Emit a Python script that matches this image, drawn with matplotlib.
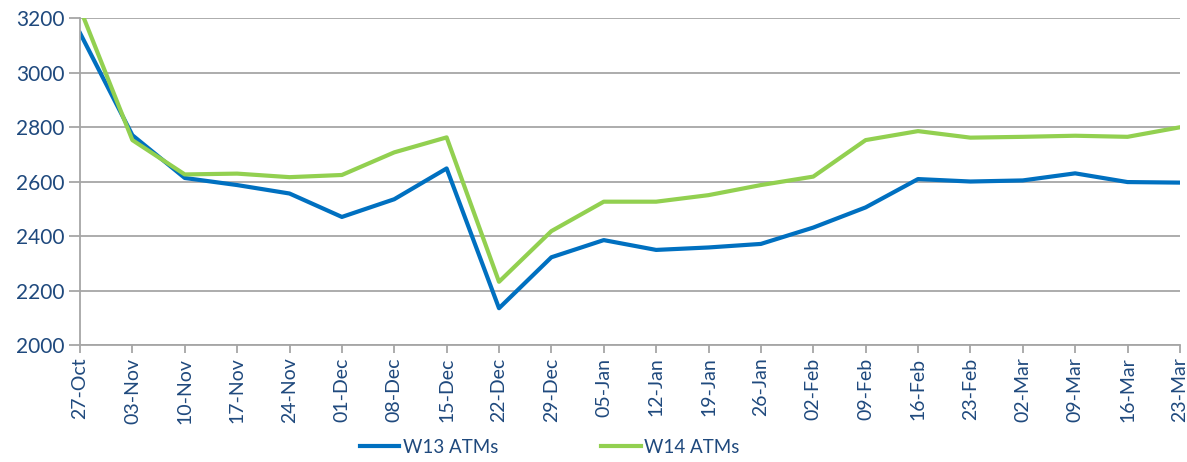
import matplotlib
matplotlib.use("Agg")
from matplotlib import pyplot as plt

# weekly dates and ATM counts
dates = ['27-Oct', '03-Nov', '10-Nov', '17-Nov', '24-Nov', '01-Dec', '08-Dec', '15-Dec',
         '22-Dec', '29-Dec', '05-Jan', '12-Jan', '19-Jan', '26-Jan', '02-Feb', '09-Feb',
         '16-Feb', '23-Feb', '02-Mar', '09-Mar', '16-Mar', '23-Mar']
w13 = [3145, 2770, 2613, 2587, 2556, 2470, 2535, 2648, 2135, 2322, 2385, 2349,
       2358, 2371, 2431, 2505, 2609, 2600, 2604, 2630, 2598, 2596]
w14 = [3235, 2752, 2626, 2629, 2616, 2624, 2707, 2762, 2232, 2418, 2526, 2526,
       2550, 2587, 2618, 2752, 2785, 2761, 2764, 2768, 2764, 2799]

txt = '#1F497D'
grid = '#A6A6A6'

plt.rcParams['font.family'] = ['Lato', 'DejaVu Sans']

fig = plt.figure(figsize=(11.87, 4.62), dpi=100)
ax = fig.add_axes([0.0674, 0.2532, 0.9266, 0.7078])

x = list(range(len(dates)))
ax.plot(x, w13, color='#0070C0', lw=3, label='W13 ATMs', solid_joinstyle='round')
ax.plot(x, w14, color='#92D050', lw=3, label='W14 ATMs', solid_joinstyle='round')

ax.set_xlim(0, len(dates) - 1)
ax.set_ylim(2000, 3200)
ax.set_yticks(range(2000, 3201, 200))
ax.set_xticks(x)
ax.set_xticklabels(dates, rotation=90)

ax.grid(axis='y', color=grid, lw=1.3)
ax.set_axisbelow(True)
for s in ['top', 'right']:
    ax.spines[s].set_visible(False)
for s in ['left', 'bottom']:
    ax.spines[s].set_color(grid)
    ax.spines[s].set_linewidth(1.3)

ax.tick_params(axis='y', length=8, width=1.3, color=grid, labelsize=15, labelcolor=txt, pad=3)
ax.tick_params(axis='x', length=6, width=1.3, color=grid, labelsize=14, labelcolor=txt, pad=3)

fig.legend(loc='center', bbox_to_anchor=(0.463, 0.032), ncol=2, frameon=False,
           fontsize=13.5, labelcolor=txt, handlelength=2.1, handletextpad=0.2,
           columnspacing=5.5)

fig.savefig('out.png', dpi=100)
